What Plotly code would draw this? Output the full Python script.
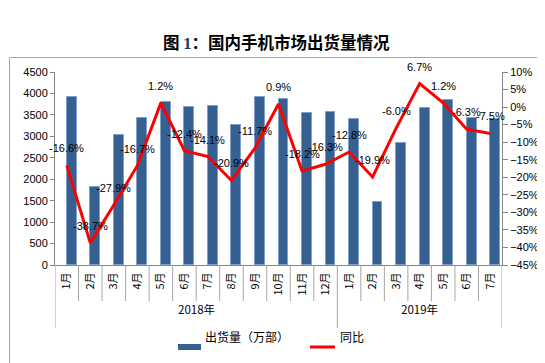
import plotly.graph_objects as go

# ---------------- data ----------------
years = ["2018年", "2019年"]
months_2018 = ["1月", "2月", "3月", "4月", "5月", "6月", "7月", "8月", "9月", "10月", "11月", "12月"]
months_2019 = ["1月", "2月", "3月", "4月", "5月", "6月", "7月"]
shipments_2018 = [3922, 1817, 3034, 3431, 3798, 3681, 3705, 3267, 3915, 3859, 3548, 3571]
shipments_2019 = [3408, 1459, 2846, 3665, 3836, 3431, 3415]
yoy_2018 = [-16.6, -38.7, -27.9, -16.7, 1.2, -12.4, -14.1, -20.9, -11.7, 0.9, -18.2, -16.3]
yoy_2019 = [-12.8, -19.9, -6.0, 6.7, 1.2, -6.3, -7.5]
bar_name = "出货量（万部）"
line_name = "同比"
title_text = "图 <span style='font-family:Liberation Serif;color:#1F3864'>1</span>：国内手机市场出货量情况"

# ---------------- derived ----------------
groups = [(years[0], months_2018), (years[1], months_2019)]
cats, ticktext = [], []
for y, ms in groups:
    for m in ms:
        cats.append(y + m)
        ticktext.append(m)
shipments = shipments_2018 + shipments_2019
yoy = yoy_2018 + yoy_2019
n = len(cats)

# layout geometry (pixels)
W, H = 545, 363
L, R, T, B = 47, 51, 64, 106
PW, PH = W - L - R, H - T - B


def px(xpix):
    return (xpix - L) / PW


def py(ypix):
    return (H - B - ypix) / PH


BLUE = "#376092"
RED = "#FF0000"
AXIS = "#868686"
FONT = "Liberation Sans, Arial, Noto Sans CJK SC, sans-serif"
CJK = "Noto Sans CJK SC, sans-serif"

fig = go.Figure()
fig.add_trace(go.Bar(
    x=cats, y=shipments, name=bar_name, offset=0, width=0.42,
    marker=dict(color=BLUE, line=dict(color="#7F9FC9", width=1)),
    showlegend=False,
))
fig.add_trace(go.Scatter(
    x=cats, y=yoy, name=line_name, mode="lines", yaxis="y2",
    line=dict(color=RED, width=3), showlegend=False,
))

annotations = []
for c, v in zip(cats, yoy):
    annotations.append(dict(
        x=c, y=v, xref="x", yref="y2", text=f"{v:.1f}%", showarrow=False,
        yshift=17, font=dict(family=FONT, size=11, color="#000000"),
    ))

shapes = []
# category dividers
major = {0}
start = 0
for y, ms in groups:
    start += len(ms)
    major.add(start)
for i in range(n + 1):
    shapes.append(dict(
        type="line", xref="x", yref="paper", x0=i - 0.5, x1=i - 0.5,
        y0=0, y1=py(320) if i in major else py(293),
        line=dict(color="#A6A6A6", width=1),
    ))
# year labels
start = 0
for y, ms in groups:
    center = start + (len(ms) - 1) / 2
    annotations.append(dict(
        x=center, y=py(311), xref="x", yref="paper", text=y, showarrow=False,
        font=dict(family=CJK, size=11.5, color="#000000"),
    ))
    start += len(ms)

# custom legend
shapes.append(dict(type="rect", xref="paper", yref="paper",
                   x0=px(170), x1=px(193), y0=py(342), y1=py(336),
                   fillcolor=BLUE, line=dict(width=0)))
annotations.append(dict(x=px(195), y=py(339), xref="paper", yref="paper",
                        text=bar_name, showarrow=False, xanchor="left",
                        font=dict(family=CJK, size=12, color="#000000")))
shapes.append(dict(type="line", xref="paper", yref="paper",
                   x0=px(302), x1=px(327), y0=py(339), y1=py(339),
                   line=dict(color=RED, width=3)))
annotations.append(dict(x=px(330), y=py(339), xref="paper", yref="paper",
                        text=line_name, showarrow=False, xanchor="left",
                        font=dict(family=CJK, size=12, color="#000000")))
# outer chart border
shapes.append(dict(type="rect", xref="paper", yref="paper",
                   x0=px(1.5), x1=px(541.5), y0=py(357.5), y1=py(49.5),
                   line=dict(color="#A6A6A6", width=1)))
# title
annotations.append(dict(x=px(268), y=py(20), xref="paper", yref="paper",
                        text="<b>" + title_text + "</b>", showarrow=False,
                        font=dict(family=CJK, size=16.5, color="#000000")))

fig.update_layout(
    width=W, height=H,
    margin=dict(l=L, r=R, t=T, b=B, pad=0),
    paper_bgcolor="white", plot_bgcolor="white",
    bargap=0,
    xaxis=dict(
        type="category", range=[-0.5, n - 0.5], tickmode="array",
        tickvals=cats, ticktext=ticktext, tickangle=-90,
        showline=True, linecolor=AXIS, linewidth=1, ticks="",
        ticklabelstandoff=2, showgrid=False, zeroline=False,
        tickfont=dict(family=CJK, size=11, color="#000000"),
    ),
    yaxis=dict(
        range=[0, 4500], dtick=500, showgrid=False, zeroline=False,
        showline=True, linecolor=AXIS, linewidth=1,
        ticks="outside", ticklen=4, tickcolor=AXIS,
        tickfont=dict(family=FONT, size=11, color="#000000"),
    ),
    yaxis2=dict(
        overlaying="y", side="right", range=[-45, 10], dtick=5,
        ticksuffix="%", showgrid=False, zeroline=False,
        showline=True, linecolor=AXIS, linewidth=1,
        ticks="outside", ticklen=5, tickcolor=AXIS,
        tickfont=dict(family=FONT, size=11, color="#000000"),
    ),
    annotations=annotations, shapes=shapes,
)

fig.write_html("out.html")
